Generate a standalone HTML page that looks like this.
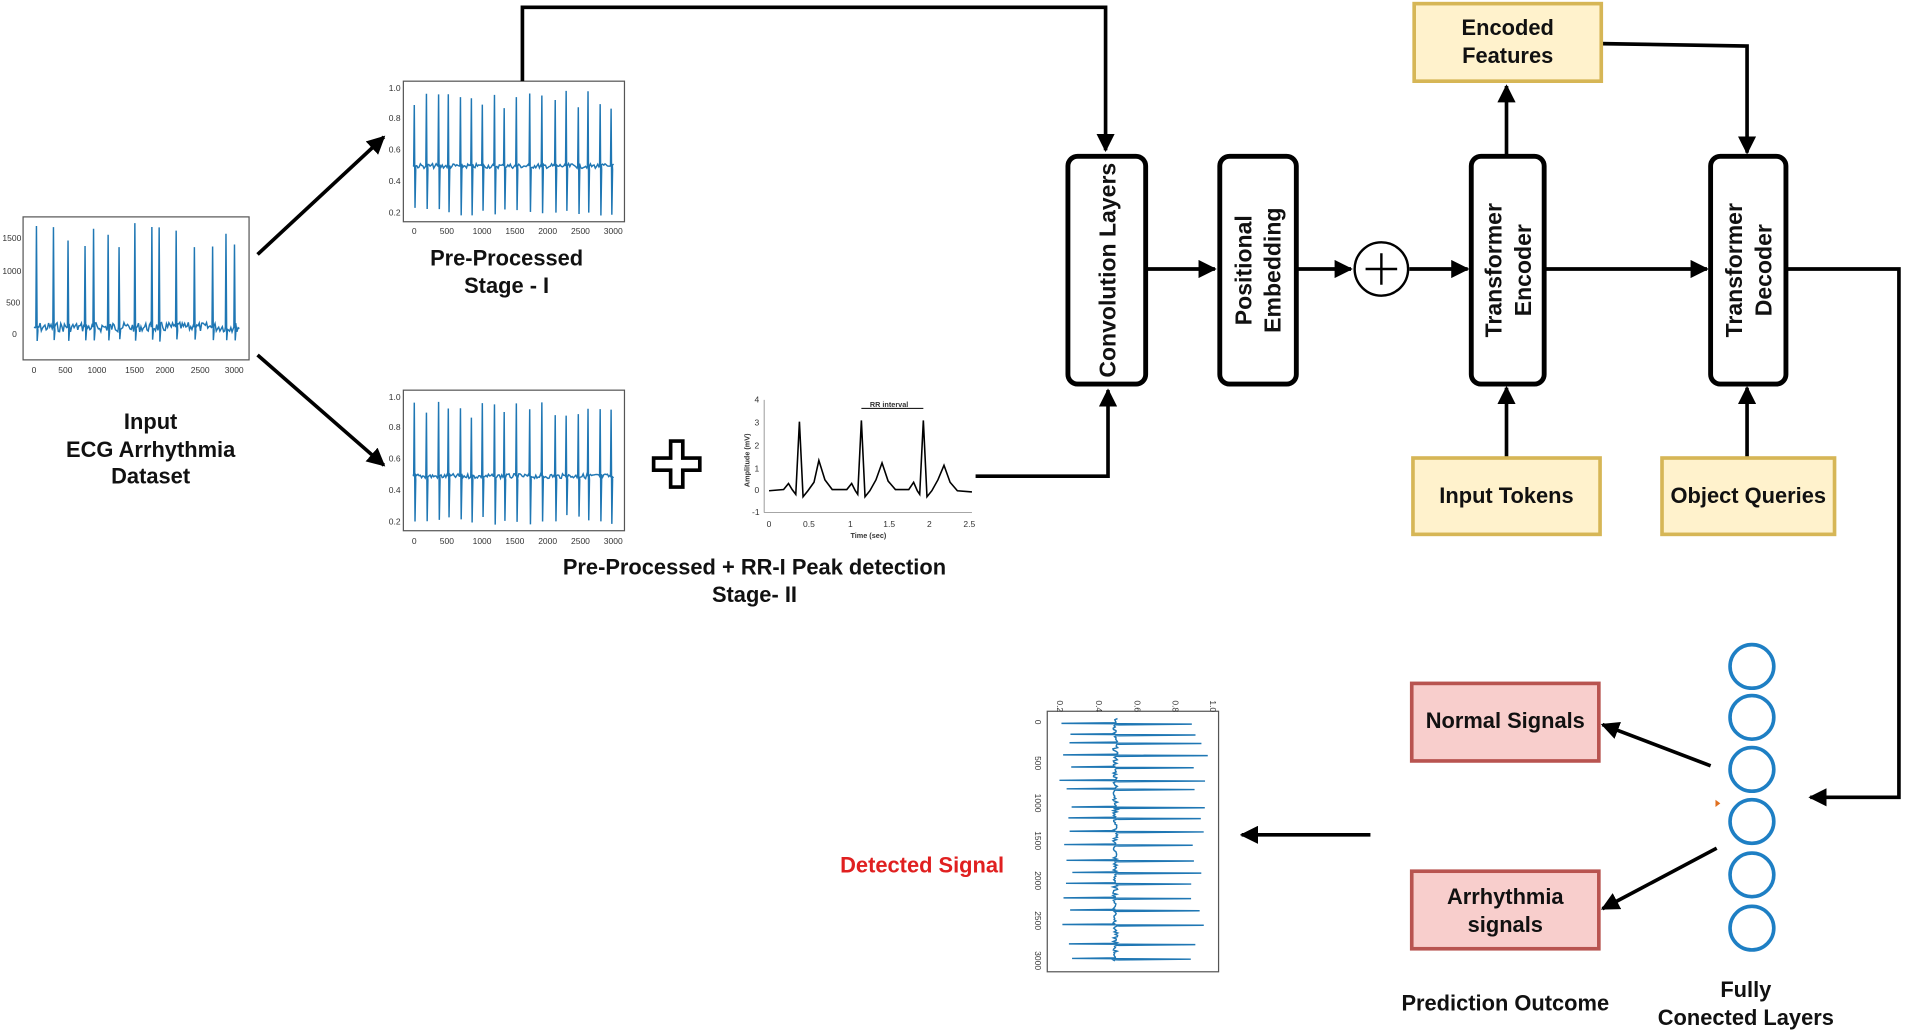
<!DOCTYPE html>
<html><head><meta charset="utf-8"><style>
html,body{margin:0;padding:0;background:#fff;}
svg{display:block;font-family:"Liberation Sans",Arial,sans-serif;}
.b{font-weight:bold;fill:#111;}
.tk{font-size:7px;fill:#333;}
</style></head><body>
<svg id="s" width="1905" height="1036" viewBox="0 0 1568 855" preserveAspectRatio="none" xmlns="http://www.w3.org/2000/svg">
<defs>
<marker id="ar" viewBox="0 0 10 10" refX="9" refY="5" markerWidth="5" markerHeight="5" orient="auto"><path d="M0,0 L10,5 L0,10 z" fill="#000"/></marker>
</defs>
<rect width="1568" height="855" fill="#fff"/>
<g id="plots"></g>

<!-- plot frames -->
<rect x="19" y="179" width="186" height="118" fill="none" stroke="#555" stroke-width="1"/>
<rect x="332" y="67" width="182" height="116" fill="none" stroke="#555" stroke-width="1"/>
<rect x="332" y="322" width="182" height="116" fill="none" stroke="#555" stroke-width="1"/>
<rect x="862" y="587" width="141" height="215" fill="none" stroke="#555" stroke-width="1"/>

<!-- tick labels -->
<g class="tk">
<text x="2" y="199">1500</text><text x="2" y="226">1000</text><text x="5" y="252">500</text><text x="10" y="278">0</text>
<text x="26" y="308">0</text><text x="48" y="308">500</text><text x="72" y="308">1000</text><text x="103" y="308">1500</text><text x="128" y="308">2000</text><text x="157" y="308">2500</text><text x="185" y="308">3000</text>
<text x="320" y="75">1.0</text><text x="320" y="100">0.8</text><text x="320" y="126">0.6</text><text x="320" y="152">0.4</text><text x="320" y="178">0.2</text>
<text x="339" y="193">0</text><text x="362" y="193">500</text><text x="389" y="193">1000</text><text x="416" y="193">1500</text><text x="443" y="193">2000</text><text x="470" y="193">2500</text><text x="497" y="193">3000</text>
<text x="320" y="330">1.0</text><text x="320" y="355">0.8</text><text x="320" y="381">0.6</text><text x="320" y="407">0.4</text><text x="320" y="433">0.2</text>
<text x="339" y="449">0</text><text x="362" y="449">500</text><text x="389" y="449">1000</text><text x="416" y="449">1500</text><text x="443" y="449">2000</text><text x="470" y="449">2500</text><text x="497" y="449">3000</text>
</g>

<!-- RR plot -->
<g>
<line x1="629" y1="330" x2="629" y2="423" stroke="#999" stroke-width="0.8"/>
<line x1="629" y1="423" x2="800" y2="423" stroke="#999" stroke-width="0.8"/>
<g class="tk" font-size="7">
<text x="621" y="332">4</text><text x="621" y="351">3</text><text x="621" y="370">2</text><text x="621" y="389">1</text><text x="621" y="407">0</text><text x="619" y="425">-1</text>
<text x="631" y="435">0</text><text x="661" y="435">0.5</text><text x="698" y="435">1</text><text x="727" y="435">1.5</text><text x="763" y="435">2</text><text x="793" y="435">2.5</text>
<text x="700" y="444" font-weight="bold" font-size="6">Time (sec)</text>
<text x="716" y="336" font-weight="bold" font-size="6">RR interval</text>
<text transform="translate(617,402) rotate(-90)" font-size="6" font-weight="bold">Amplitude (mV)</text>
</g>
<line x1="709" y1="337" x2="760" y2="337" stroke="#000" stroke-width="0.8"/>
<polyline fill="none" stroke="#000" stroke-width="1.3" points="633,405 645,404 649,399 652,404 655,408 658,348 661,410 665,405 670,398 674,380 679,396 685,404 697,404 701,399 704,405 706,408 709,347 712,410 716,405 721,396 726,382 731,397 737,404 748,404 752,398 755,405 757,408 760,347 763,410 767,405 772,396 777,384 782,398 788,405 800,406"/>
</g>

<!-- Plus sign -->
<path d="M552,364 h10 v14 h14 v10 h-14 v14 h-10 v-14 h-14 v-10 h14 z" fill="#fff" stroke="#000" stroke-width="3"/>

<!-- arrows left -->
<g stroke="#000" stroke-width="3" fill="none">
<line x1="212" y1="210" x2="316" y2="113" marker-end="url(#ar)"/>
<line x1="212" y1="293" x2="316" y2="384" marker-end="url(#ar)"/>
<polyline points="430,67 430,6 910,6 910,124" marker-end="url(#ar)"/>
<polyline points="803,393 912,393 912,322" marker-end="url(#ar)"/>
<line x1="943" y1="222" x2="1000" y2="222" marker-end="url(#ar)"/>
<line x1="1067" y1="222" x2="1112" y2="222" marker-end="url(#ar)"/>
<line x1="1160" y1="222" x2="1208" y2="222" marker-end="url(#ar)"/>
<line x1="1271" y1="222" x2="1405" y2="222" marker-end="url(#ar)"/>
<polyline points="1470,222 1563,222 1563,658 1490,658" marker-end="url(#ar)"/>
<line x1="1240" y1="129" x2="1240" y2="71" marker-end="url(#ar)"/>
<polyline points="1318,36 1438,38 1438,126" marker-end="url(#ar)"/>
<line x1="1240" y1="378" x2="1240" y2="320" marker-end="url(#ar)"/>
<line x1="1438" y1="378" x2="1438" y2="320" marker-end="url(#ar)"/>
<line x1="1408" y1="632" x2="1319" y2="598" marker-end="url(#ar)"/>
<line x1="1413" y1="700" x2="1319" y2="750" marker-end="url(#ar)"/>
<line x1="1128" y1="689" x2="1022" y2="689" marker-end="url(#ar)"/>
</g>

<!-- main blocks -->
<g fill="#fff" stroke="#000" stroke-width="4">
<rect x="879" y="129" width="64" height="188" rx="8"/>
<rect x="1004" y="129" width="63" height="188" rx="8"/>
<rect x="1211" y="129" width="60" height="188" rx="8"/>
<rect x="1408" y="129" width="62" height="188" rx="8"/>
</g>
<circle cx="1137" cy="222" r="22" fill="#fff" stroke="#000" stroke-width="2"/>
<line x1="1124" y1="222" x2="1150" y2="222" stroke="#000" stroke-width="2"/>
<line x1="1137" y1="209" x2="1137" y2="235" stroke="#000" stroke-width="2"/>
<g class="b" font-size="19" text-anchor="middle">
<text transform="translate(918,223) rotate(-90)">Convolution  Layers</text>
<text transform="translate(1030,223) rotate(-90)">Positional</text>
<text transform="translate(1054,223) rotate(-90)">Embedding</text>
<text transform="translate(1236,223) rotate(-90)">Transformer</text>
<text transform="translate(1260,223) rotate(-90)">Encoder</text>
<text transform="translate(1434,223) rotate(-90)">Transformer</text>
<text transform="translate(1458,223) rotate(-90)">Decoder</text>
</g>

<!-- yellow boxes -->
<g fill="#fff2cc" stroke="#d6b656" stroke-width="3">
<rect x="1164" y="3" width="154" height="64"/>
<rect x="1163" y="378" width="154" height="63"/>
<rect x="1368" y="378" width="142" height="63"/>
</g>
<!-- red boxes -->
<g fill="#f8cecc" stroke="#b85450" stroke-width="3">
<rect x="1162" y="564" width="154" height="64"/>
<rect x="1162" y="719" width="154" height="64"/>
</g>
<g class="b" font-size="18" text-anchor="middle">
<text x="1241" y="29">Encoded</text><text x="1241" y="52">Features</text>
<text x="1240" y="415">Input Tokens</text>
<text x="1439" y="415">Object Queries</text>
<text x="1239" y="601">Normal Signals</text>
<text x="1239" y="746">Arrhythmia</text><text x="1239" y="769">signals</text>
<text x="124" y="354">Input</text>
<text x="124" y="377">ECG Arrhythmia</text>
<text x="124" y="399">Dataset</text>
<text x="417" y="219">Pre-Processed</text>
<text x="417" y="242">Stage - I</text>
<text x="621" y="474">Pre-Processed + RR-I Peak detection</text>
<text x="621" y="497">Stage- II</text>
<text x="1239" y="834">Prediction Outcome</text>
<text x="1437" y="823">Fully</text>
<text x="1437" y="846">Conected Layers</text>
<text x="759" y="720" fill="#e02020" style="fill:#e02020">Detected Signal</text>
</g>

<!-- FC circles -->
<g fill="#fff" stroke="#1e7fc4" stroke-width="3">
<circle cx="1442" cy="550" r="18"/><circle cx="1442" cy="592" r="18"/><circle cx="1442" cy="635" r="18"/>
<circle cx="1442" cy="678" r="18"/><circle cx="1442" cy="722" r="18"/><circle cx="1442" cy="766" r="18"/>
</g>
<path d="M1412,660 l4,3 l-4,3z" fill="#e07020"/>

<!-- rotated plot ticks -->
<g class="tk">
<text transform="translate(870,578) rotate(90)">0.2</text><text transform="translate(902,578) rotate(90)">0.4</text>
<text transform="translate(934,578) rotate(90)">0.6</text><text transform="translate(965,578) rotate(90)">0.8</text><text transform="translate(996,578) rotate(90)">1.0</text>
<text transform="translate(852,594) rotate(90)">0</text><text transform="translate(852,624) rotate(90)">500</text><text transform="translate(852,655) rotate(90)">1000</text>
<text transform="translate(852,686) rotate(90)">1500</text><text transform="translate(852,719) rotate(90)">2000</text><text transform="translate(852,752) rotate(90)">2500</text><text transform="translate(852,785) rotate(90)">3000</text>
</g>
</svg>
<script>
(function(){
var g=document.getElementById('plots'),NS='http://www.w3.org/2000/svg';
var seed=7;function r(){seed=(seed*9301+49297)%233280;return seed/233280;}
function line(pts){var p=document.createElementNS(NS,'polyline');p.setAttribute('points',pts.join(' '));p.setAttribute('fill','none');p.setAttribute('stroke','#1f77b4');p.setAttribute('stroke-width','1.2');g.appendChild(p);}
function ecg(x0,x1,base,top,bot,beats,noise,rot){
 var pts=[],n=beats.length,bi=0;
 for(var x=x0;x<=x1;x+=1){
  var hit=false;
  for(var k=0;k<n;k++){if(Math.abs(x-beats[k])<0.5){hit=true;break;}}
  if(hit){var t=top+r()*(base-top)*0.25;var b=bot-r()*(bot-base)*0.2;
   var a=[x-0.5,base,x,t,x+0.6,b,x+1.2,base+3];
   for(var i=0;i<a.length;i+=2)pts.push(rot?(a[i+1]+','+a[i]):(a[i]+','+a[i+1]));
  } else {var y=base+(r()-0.5)*noise;pts.push(rot?(y+','+x):(x+','+y));}
 }
 line(pts);
}
ecg(28,197,270,184,282,[30,44,56,70,77,89,98,111,125,131,145,160,175,186,193],8,false);
var b1=[341,351,361,369,379,388,397,407,415,425,436,446,457,466,476,484,494,503];
ecg(340,505,137,75,178,b1,4,false);
ecg(340,505,393,330,433,b1,4,false);
ecg(593,793,918,872,995,[597,606,613,623,633,644,651,666,675,686,697,710,720,729,741,751,763,779,791],4,true);
})();
</script>
</body></html>
